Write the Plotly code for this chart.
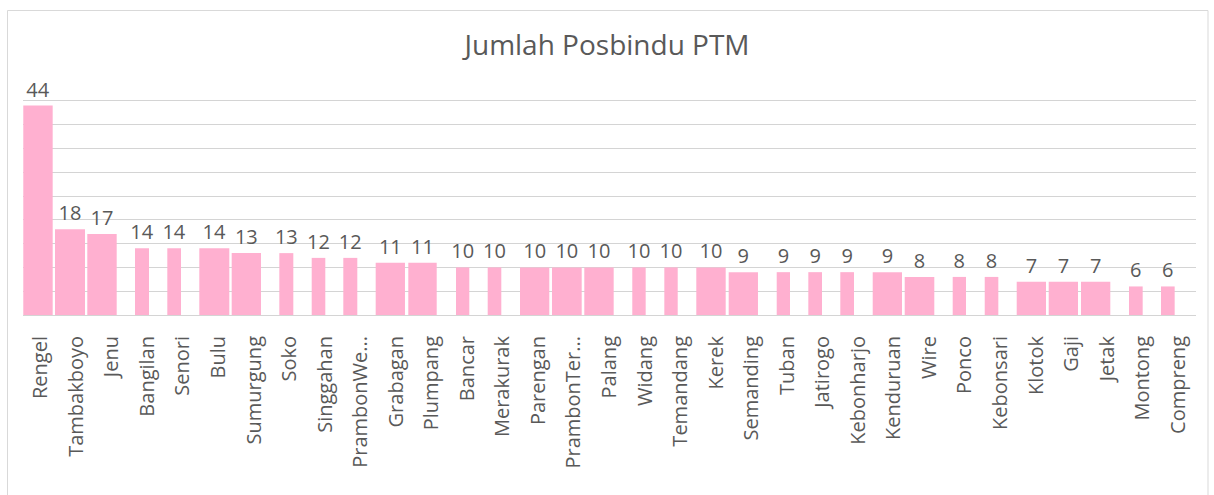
import plotly.graph_objects as go

categories = ["Rengel", "Tambakboyo", "Jenu", "Bangilan", "Senori", "Bulu", "Sumurgung",
              "Soko", "Singgahan", "PrambonWe...", "Grabagan", "Plumpang", "Bancar",
              "Merakurak", "Parengan", "PrambonTer...", "Palang", "Widang", "Temandang",
              "Kerek", "Semanding", "Tuban", "Jatirogo", "Kebonharjo", "Kenduruan", "Wire",
              "Ponco", "Kebonsari", "Klotok", "Gaji", "Jetak", "Montong", "Compreng"]
values = [44, 18, 17, 14, 14, 14, 13, 13, 12, 12, 11, 11, 10, 10, 10, 10, 10, 10, 10,
          10, 9, 9, 9, 9, 9, 8, 8, 8, 7, 7, 7, 6, 6]
title_text = "Jumlah Posbindu PTM"

# style: per-bar width/offset (category units) mimicking the reference rendering
bar_widths = [0.827, 0.844, 0.827, 0.394, 0.385, 0.844, 0.824, 0.394, 0.383, 0.394,
              0.824, 0.799, 0.374, 0.383, 0.824, 0.836, 0.827, 0.377, 0.377, 0.827,
              0.824, 0.374, 0.385, 0.385, 0.824, 0.833, 0.374, 0.383, 0.824, 0.824,
              0.824, 0.385, 0.385]
bar_offsets = [-0.492, -0.600, -0.691, -0.349, -0.440, -0.540, -0.629, -0.289, -0.378,
               -0.489, -0.578, -0.660, -0.318, -0.427, -0.518, -0.618, -0.709, -0.359,
               -0.458, -0.558, -0.647, -0.296, -0.407, -0.507, -0.595, -0.695, -0.345,
               -0.444, -0.544, -0.644, -0.735, -0.385, -0.485]

TXT = "#595959"
FONT = "Open Sans"

fig = go.Figure(go.Bar(
    x=categories, y=values,
    width=bar_widths, offset=bar_offsets,
    marker=dict(color="#FFB0D0", line=dict(width=0)),
    text=[str(v) for v in values], textposition="outside",
    constraintext="none", cliponaxis=False,
    textfont=dict(family=FONT, size=20, color=TXT),
    hoverinfo="skip",
))

W, H = 1214, 495
L, R, T, B = 23, 18, 77, 180
pw = W - L - R
ph = H - T - B

fig.update_layout(
    width=W, height=H,
    margin=dict(l=L, r=R, t=T, b=B, pad=0, autoexpand=False),
    paper_bgcolor="white", plot_bgcolor="white",
    showlegend=False,
    title=dict(text=title_text, x=0.5, xref="container", xanchor="center",
               y=1 - 45 / H, yref="container", yanchor="middle",
               font=dict(family=FONT, size=28, color=TXT)),
    xaxis=dict(type="category", tickangle=-90, showgrid=False, showline=False,
               zeroline=False, ticks="", ticklabelstandoff=16, automargin=False,
               tickfont=dict(family=FONT, size=20, color=TXT)),
    yaxis=dict(range=[0, 50], dtick=5, showticklabels=False, ticks="", automargin=False,
               showgrid=True, gridcolor="#d4d4d4", gridwidth=1,
               zeroline=True, zerolinecolor="#d4d4d4", zerolinewidth=1, showline=False),
)


def py(px):
    return (T + ph - px) / ph


def pxx(px):
    return (px - L) / pw


fig.add_shape(type="rect", xref="paper", yref="paper",
              x0=pxx(7.5), x1=pxx(1208), y0=py(530), y1=py(10.5),
              line=dict(color="#d9d9d9", width=1), fillcolor="rgba(0,0,0,0)", layer="below")

fig.write_html("out.html", config={"displayModeBar": False},
               post_script="document.body.style.margin='0';")
